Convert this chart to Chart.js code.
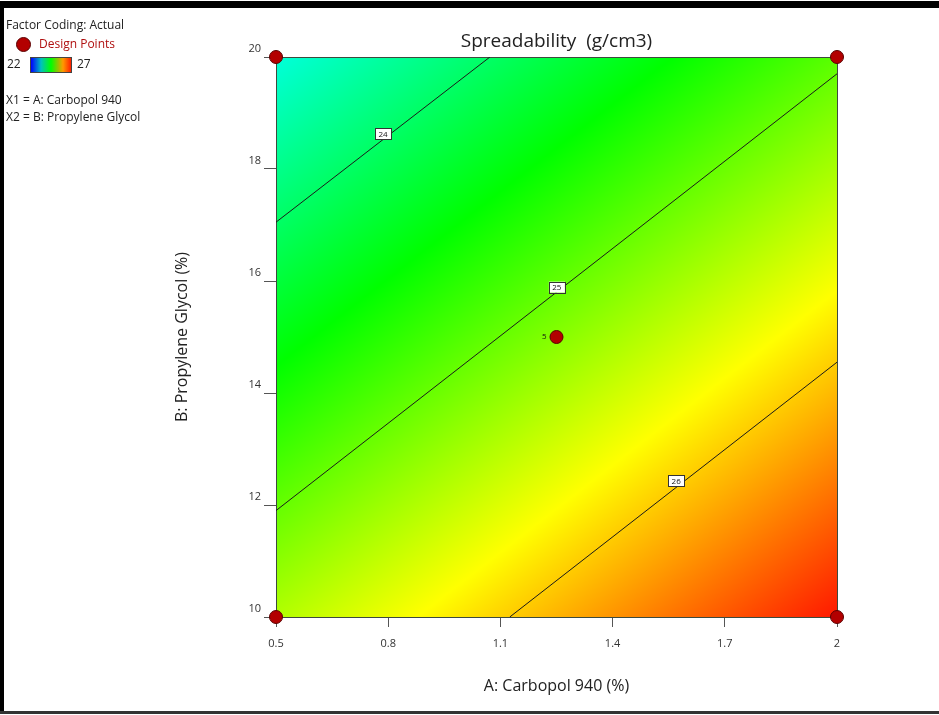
<!DOCTYPE html>
<html>
<head>
<meta charset="utf-8">
<script src="https://cdn.jsdelivr.net/npm/chart.js@4.4.1/dist/chart.umd.min.js"></script>
<style>
  html, body { margin: 0; padding: 0; background: #fff; }
  #wrap { position: relative; width: 939px; height: 715px; overflow: hidden; font-family: "Open Sans", "Noto Sans", sans-serif; }
  #chart { position: absolute; left: 0; top: 0; }
  .frame { position: absolute; background: #000; }
  #legend { position: absolute; left: 6px; top: 16px; font-size: 12px; color: #222; line-height: 17px; }
  #legend .row { position: absolute; white-space: nowrap; }
  #legend .dot { display: inline-block; width: 13px; height: 13px; border-radius: 50%; background: #b30000; border: 1px solid #5a0000; vertical-align: middle; }
  #legend .bar { display: inline-block; width: 40px; height: 14px; border: 1px solid #444; vertical-align: middle;
    background: linear-gradient(to right, #0000ff, #00c0c0 25%, #00ff00 50%, #ff9900 80%, #ff2000); }
</style>
</head>
<body>
<div id="wrap">
  <canvas id="chart" width="939" height="715"></canvas>
  <div class="frame" style="left:0;top:1px;width:939px;height:7px;"></div>
  <div class="frame" style="left:0;top:1px;width:4px;height:713px;"></div>
  <div class="frame" style="left:0;top:711px;width:939px;height:3px;background:#333;"></div>
  <div id="legend">
    <div class="row" style="left:0;top:0;">Factor Coding: Actual</div>
    <div class="row" style="left:10px;top:19px;"><span class="dot"></span><span style="color:#b01010;margin-left:8px;">Design Points</span></div>
    <div class="row" style="left:1px;top:39px;">22 <span class="bar" style="margin:0 2px 0 6px;"></span> 27</div>
    <div class="row" style="left:0;top:75px;">X1 = A: Carbopol 940</div>
    <div class="row" style="left:0;top:92px;">X2 = B: Propylene Glycol</div>
  </div>
</div>
<script>
// axes
const xTicks = [0.5, 0.8, 1.1, 1.4, 1.7, 2];
const yTicks = [10, 12, 14, 16, 18, 20];

// design points (A, B) and the replicate count at centre
const designA = [0.5, 2, 0.5, 2, 1.25];
const designB = [10, 10, 20, 20, 15];
const designLabel = ["", "", "", "", "5"];

// contour lines
const contourLevels = [24, 25, 26];
const contourA = [[0.5, 1.072], [0.5, 2], [1.125, 2]];
const contourB = [[17.05, 20], [11.9, 19.7], [10, 14.55]];
const contourLabelA = [0.786, 1.251, 1.57];
const contourLabelB = [18.63, 15.89, 12.43];

// response at the corners of the design space (rows: B=10, B=20)
const cornerA = [0.5, 2];
const cornerB = [10, 20];
const cornerValues = [[25.37, 26.88], [23.43, 24.94]];

// colour map 22 -> 27
const colorLevels = [22, 23.25, 24.5, 25.75, 27];
const colorStops = ["#0000ff", "#00ffff", "#00ff00", "#ffff00", "#ff0000"];

const surfacePlugin = {
  id: "surface",
  beforeDatasetsDraw(chart) {
    const { ctx, chartArea: ca, scales: { x, y } } = chart;
    const x0 = x.getPixelForValue(cornerA[0]), x1 = x.getPixelForValue(cornerA[1]);
    const y0 = y.getPixelForValue(cornerB[0]), y1 = y.getPixelForValue(cornerB[1]);
    const v00 = cornerValues[0][0];
    const gx = (cornerValues[0][1] - v00) / (x1 - x0);
    const gy = (cornerValues[1][0] - v00) / (y1 - y0);
    const g2 = gx * gx + gy * gy;
    const lo = colorLevels[0], hi = colorLevels[colorLevels.length - 1];
    const px = v => x0 + gx * (v - v00) / g2;
    const py = v => y0 + gy * (v - v00) / g2;
    const grad = ctx.createLinearGradient(px(lo), py(lo), px(hi), py(hi));
    colorLevels.forEach((l, i) => grad.addColorStop((l - lo) / (hi - lo), colorStops[i]));
    ctx.save();
    ctx.fillStyle = grad;
    ctx.fillRect(ca.left, ca.top, ca.right - ca.left, ca.bottom - ca.top);
    ctx.strokeStyle = "#3d4a3d";
    ctx.lineWidth = 1;
    ctx.strokeRect(ca.left + 0.5, ca.top + 0.5, ca.right - ca.left, ca.bottom - ca.top);
    ctx.restore();
  },
  afterDatasetsDraw(chart) {
    const { ctx, scales: { x, y } } = chart;
    ctx.save();
    ctx.font = "8px 'Open Sans', sans-serif";
    ctx.textAlign = "center";
    ctx.textBaseline = "middle";
    contourLevels.forEach((lv, i) => {
      const cx = x.getPixelForValue(contourLabelA[i]);
      const cy = y.getPixelForValue(contourLabelB[i]);
      ctx.fillStyle = "#fff";
      ctx.fillRect(cx - 8, cy - 5.5, 16, 11);
      ctx.strokeStyle = "#333";
      ctx.lineWidth = 1;
      ctx.strokeRect(Math.round(cx - 8) + 0.5, Math.round(cy - 5.5) + 0.5, 16, 11);
      ctx.fillStyle = "#111";
      ctx.fillText(String(lv), cx, cy + 0.5);
    });
    ctx.textAlign = "right";
    designLabel.forEach((t, i) => {
      if (!t) return;
      ctx.fillText(t, x.getPixelForValue(designA[i]) - 10, y.getPixelForValue(designB[i]));
    });
    ctx.restore();
  }
};

const datasets = [{
  label: "Design Points",
  data: designA.map((a, i) => ({ x: a, y: designB[i] })),
  pointRadius: 6.5,
  pointBackgroundColor: "#b30000",
  pointBorderColor: "#5a0000",
  pointBorderWidth: 1,
  showLine: false,
  clip: false
}];
contourLevels.forEach((lv, i) => {
  datasets.push({
    label: String(lv),
    data: contourA[i].map((a, j) => ({ x: a, y: contourB[i][j] })),
    showLine: true,
    borderColor: "#1a1a1a",
    borderWidth: 1,
    pointRadius: 0,
    fill: false
  });
});

const tickFont = { family: "'Open Sans', sans-serif", size: 11 };
new Chart(document.getElementById("chart"), {
  type: "scatter",
  data: { datasets },
  plugins: [surfacePlugin],
  options: {
    responsive: false,
    animation: false,
    events: [],
    layout: { padding: { left: 169, right: 102, top: 26, bottom: 8 } },
    plugins: {
      legend: { display: false },
      tooltip: { enabled: false },
      title: {
        display: true,
        fullSize: false,
        text: "Spreadability  (g/cm3)",
        color: "#222",
        font: { family: "'Open Sans', sans-serif", size: 19, weight: "normal" },
        padding: { top: 4, bottom: 4.2 }
      }
    },
    scales: {
      x: {
        type: "linear", min: 0.5, max: 2,
        afterBuildTicks: s => { s.ticks = xTicks.map(v => ({ value: v })); },
        afterFit: s => { s.height = 90; },
        ticks: { color: "#333", font: tickFont, padding: 10, callback: v => String(v) },
        grid: { drawOnChartArea: false, tickLength: 10, color: "#555" },
        border: { display: false },
        title: { display: true, text: "A: Carbopol 940 (%)", color: "#222",
          font: { family: "'Open Sans', sans-serif", size: 16 }, padding: { top: 4, bottom: 11 } }
      },
      y: {
        type: "linear", min: 10, max: 20,
        afterBuildTicks: s => { s.ticks = yTicks.map(v => ({ value: v })); },
        afterFit: s => { s.width = 107; },
        ticks: { color: "#333", font: tickFont, padding: 3, labelOffset: -8, callback: v => String(v) },
        grid: { drawOnChartArea: false, tickLength: 12, color: "#555" },
        border: { display: false },
        title: { display: true, text: "B: Propylene Glycol (%)", color: "#222",
          font: { family: "'Open Sans', sans-serif", size: 16 }, padding: { top: 4, bottom: 4 } }
      }
    }
  }
});
</script>
</body>
</html>
